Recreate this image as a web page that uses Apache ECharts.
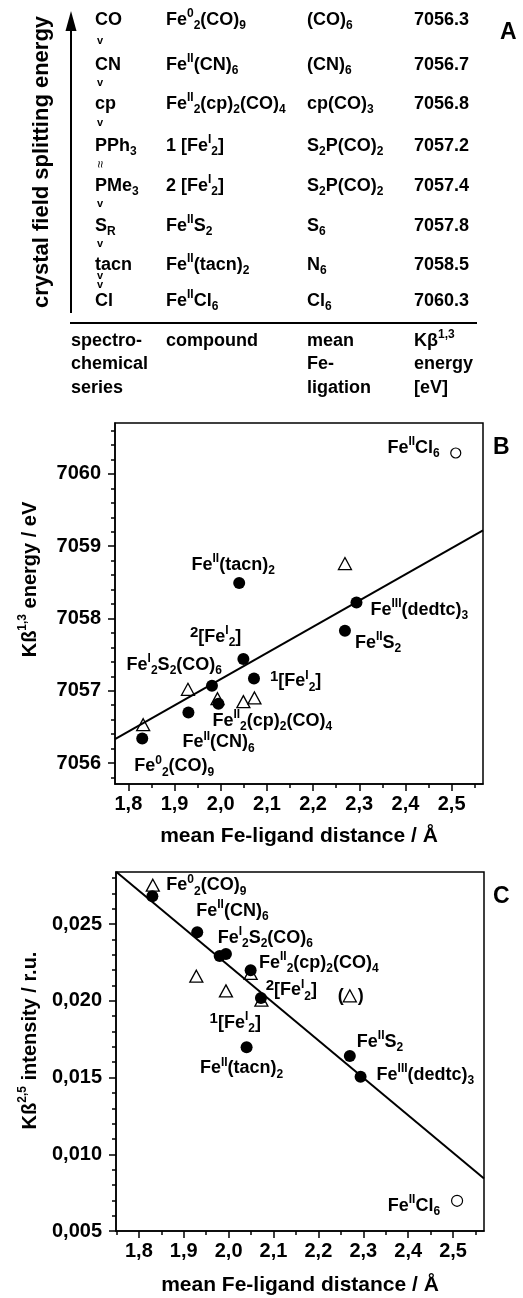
<!DOCTYPE html>
<html><head><meta charset="utf-8">
<script src="https://cdn.jsdelivr.net/npm/echarts@6/dist/echarts.min.js"></script>
<style>html,body{margin:0;padding:0;background:#fff}#c{width:523px;height:1298px}</style>
</head><body><div id="c"></div>
<script>
const FONT = '"Liberation Sans", Arial, Helvetica, sans-serif';

// ---------- Panel A (table) ----------
const spectroSeries = ['{m|CO}','{m|CN}','{m|cp}','{m|PPh}{sub|3}','{m|PMe}{sub|3}','{m|S}{sub|R}','{m|tacn}','{m|Cl}'];
const seriesRelations = ['v','v','v','≈','v','v','vv'];
const compoundsTable = [
  '{m|Fe}{sup|0}{sub|2}{m|(CO)}{sub|9}',
  '{m|Fe}{sup|II}{m|(CN)}{sub|6}',
  '{m|Fe}{sup|II}{sub|2}{m|(cp)}{sub|2}{m|(CO)}{sub|4}',
  '{m|1 [Fe}{sup|I}{sub|2}{m|]}',
  '{m|2 [Fe}{sup|I}{sub|2}{m|]}',
  '{m|Fe}{sup|II}{m|S}{sub|2}',
  '{m|Fe}{sup|II}{m|(tacn)}{sub|2}',
  '{m|Fe}{sup|II}{m|Cl}{sub|6}'
];
const ligationTable = ['{m|(CO)}{sub|6}','{m|(CN)}{sub|6}','{m|cp(CO)}{sub|3}','{m|S}{sub|2}{m|P(CO)}{sub|2}','{m|S}{sub|2}{m|P(CO)}{sub|2}','{m|S}{sub|6}','{m|N}{sub|6}','{m|Cl}{sub|6}'];
const energyTable = [7056.3, 7056.7, 7056.8, 7057.2, 7057.4, 7057.8, 7058.5, 7060.3];
const headerCols = [
  ['spectro-','chemical','series'],
  ['compound'],
  ['mean','Fe-','ligation'],
  ['{m|Kβ}{sup|1,3}','energy','[eV]']
];

// ---------- Panel B ----------
const compoundNames = ['Fe0', 'CN', 'S2CO', 'cp', 'tacn', '2FeI2', '1FeI2', 'S2', 'dedtc'];
const distB   = [1.830, 1.930, 1.981, 1.995, 2.040, 2.049, 2.072, 2.269, 2.294];
const energyB = [7056.34, 7056.70, 7057.07, 7056.82, 7058.49, 7057.44, 7057.17, 7057.83, 7058.22];
const triDistB   = [1.832, 1.929, 1.993, 2.049, 2.073, 2.269];
const triEnergyB = [7056.53, 7057.02, 7056.89, 7056.85, 7056.90, 7058.76];
const openDistB = [2.509];
const openEnergyB = [7060.29];
const fitDistB = [1.771, 2.568];
const fitEnergyB = [7056.33, 7059.22];

// ---------- Panel C ----------
const distC      = [1.830, 1.930, 1.980, 1.994, 2.040, 2.049, 2.072, 2.270, 2.294];
const intensityC = [0.02682, 0.02448, 0.02292, 0.02305, 0.01697, 0.02200, 0.02018, 0.01641, 0.01505];
const triDistC = [1.831, 1.928, 1.994, 2.049, 2.073, 2.270];
const triIntC  = [0.02754, 0.02161, 0.02065, 0.02179, 0.02005, 0.02033];
const openDistC = [2.509];
const openIntC = [0.00697];
const fitDistC = [1.750, 2.569];
const fitIntC = [0.0284, 0.00842];

// ---------- tick labels ----------
const distTicks = [1.8, 1.9, 2.0, 2.1, 2.2, 2.3, 2.4, 2.5];
const distMinorTicksB = [1.85, 1.95, 2.05, 2.15, 2.25, 2.35, 2.45, 2.55];
const distMinorTicksC = [1.75, 1.85, 1.95, 2.05, 2.15, 2.25, 2.35, 2.45, 2.55];
const energyTicks = [7056, 7057, 7058, 7059, 7060];
const energyMinorTicks = [7055.8, 7056.2, 7056.4, 7056.6, 7056.8, 7057.2, 7057.4, 7057.6, 7057.8,
  7058.2, 7058.4, 7058.6, 7058.8, 7059.2, 7059.4, 7059.6, 7059.8, 7060.2, 7060.4, 7060.6];
const intensityTicks = [0.005, 0.010, 0.015, 0.020, 0.025];
const intensityMinorTicks = [0.006, 0.007, 0.008, 0.009, 0.011, 0.012, 0.013, 0.014, 0.016, 0.017,
  0.018, 0.019, 0.021, 0.022, 0.023, 0.024, 0.026, 0.027, 0.028];

// compound label texts
const labelText = {
  Fe0: '{m|Fe}{sup|0}{sub|2}{m|(CO)}{sub|9}',
  CN: '{m|Fe}{sup|II}{m|(CN)}{sub|6}',
  S2CO: '{m|Fe}{sup|I}{sub|2}{m|S}{sub|2}{m|(CO)}{sub|6}',
  cp: '{m|Fe}{sup|II}{sub|2}{m|(cp)}{sub|2}{m|(CO)}{sub|4}',
  tacn: '{m|Fe}{sup|II}{m|(tacn)}{sub|2}',
  '2FeI2': '{pre|2}{m|[Fe}{sup|I}{sub|2}{m|]}',
  '1FeI2': '{pre|1}{m|[Fe}{sup|I}{sub|2}{m|]}',
  S2: '{m|Fe}{sup|II}{m|S}{sub|2}',
  dedtc: '{m|Fe}{sup|III}{m|(dedtc)}{sub|3}',
  Cl: '{m|Fe}{sup|II}{m|Cl}{sub|6}'
};

// label layout (pixel offsets from the marker centre) -- styling only
const layoutB = {
  Fe0: ['left', -8, 28], CN: ['left', -6, 30], S2CO: ['right', 10, -21], cp: ['left', -6, 17],
  tacn: ['center', -6, -18], '2FeI2': ['right', -2, -22], '1FeI2': ['left', 16, 3],
  S2: ['left', 10, 12], dedtc: ['left', 14, 7], Cl: ['right', -16, -5]
};
const layoutC = {
  Fe0: ['left', 14, -11], CN: ['left', -1, -21], S2CO: ['left', -2, -18], cp: ['left', 33, 9],
  tacn: ['center', -5, 21], '2FeI2': ['left', 15, 20], '1FeI2': ['right', 0, 25],
  S2: ['left', 7, -14], dedtc: ['left', 16, -2], Cl: ['right', -17, 5]
};

const richLabel = {
  m:   {fontSize: 18, fontWeight: 'bold', color: '#000', fontFamily: FONT, lineHeight: 24},
  sup: {fontSize: 12, fontWeight: 'bold', color: '#000', fontFamily: FONT, verticalAlign: 'top', lineHeight: 14},
  sub: {fontSize: 12, fontWeight: 'bold', color: '#000', fontFamily: FONT, verticalAlign: 'bottom', lineHeight: 14},
  pre: {fontSize: 15, fontWeight: 'bold', color: '#000', fontFamily: FONT, verticalAlign: 'top', lineHeight: 16},
  gap: {width: 14, fontSize: 18, lineHeight: 24}
};

function labelFor(name, layout) {
  const l = layout[name];
  return {show: true, position: 'inside', align: l[0], verticalAlign: 'middle', offset: [l[1], l[2]],
          formatter: labelText[name], rich: richLabel, color: '#000', opacity: 1};
}

const fmt1 = v => v.toFixed(1).replace('.', ',');
const fmt3 = v => v.toFixed(3).replace('.', ',');
const fmt0 = v => String(Math.round(v));

const axisText = {fontSize: 20, fontWeight: 'bold', color: '#000', fontFamily: FONT};
const lineBlack = {color: '#000', width: 1.5};

function majorAxis(grid, min, max, ticks, fmt, margin, extra) {
  return Object.assign({
    type: 'value', gridIndex: grid, min: min, max: max,
    axisLine: {show: true, onZero: false, lineStyle: lineBlack},
    axisTick: {show: true, inside: false, length: 7, customValues: ticks, lineStyle: lineBlack},
    axisLabel: Object.assign({customValues: ticks, formatter: fmt, margin: margin}, axisText),
    splitLine: {show: false}, minorTick: {show: false}
  }, extra);
}
function minorAxis(grid, min, max, ticks, extra) {
  return Object.assign({
    type: 'value', gridIndex: grid, min: min, max: max,
    axisLine: {show: false, onZero: false},
    axisTick: {show: true, inside: false, length: 4, customValues: ticks, lineStyle: lineBlack},
    axisLabel: {show: false}, splitLine: {show: false}
  }, extra);
}

const nameStyle = {fontSize: 21, fontWeight: 'bold', color: '#000', fontFamily: FONT};
const yNameRich = {
  a: {fontSize: 20, fontWeight: 'bold', color: '#000', fontFamily: FONT, lineHeight: 26},
  s: {fontSize: 12, fontWeight: 'bold', color: '#000', fontFamily: FONT, verticalAlign: 'top', lineHeight: 14}
};

const xMinB = 1.771, xMaxB = 2.568, yMinB = 7055.71, yMaxB = 7060.705;
const xMinC = 1.749, xMaxC = 2.569, yMinC = 0.005, yMaxC = 0.0284;

const xAxes = [
  majorAxis(0, xMinB, xMaxB, distTicks, fmt1, 10, {position: 'bottom', name: 'mean Fe-ligand distance / Å',
    nameLocation: 'middle', nameGap: 42, nameTextStyle: nameStyle}),
  minorAxis(0, xMinB, xMaxB, distMinorTicksB, {position: 'bottom'}),
  majorAxis(1, xMinC, xMaxC, distTicks, fmt1, 10, {position: 'bottom', name: 'mean Fe-ligand distance / Å',
    nameLocation: 'middle', nameGap: 44, nameTextStyle: nameStyle}),
  minorAxis(1, xMinC, xMaxC, distMinorTicksC, {position: 'bottom'})
];
const yAxes = [
  majorAxis(0, yMinB, yMaxB, energyTicks, fmt0, 14, {position: 'left',
    name: '{a|Kß}{s|1,3}{a| energy / eV}', nameLocation: 'middle', nameGap: 72,
    nameTextStyle: {rich: yNameRich, padding: [0, 0, 0, 48]}}),
  minorAxis(0, yMinB, yMaxB, energyMinorTicks, {position: 'left'}),
  majorAxis(1, yMinC, yMaxC, intensityTicks, fmt3, 14, {position: 'left',
    name: '{a|Kß}{s|2,5}{a| intensity / r.u.}', nameLocation: 'middle', nameGap: 73,
    nameTextStyle: {rich: yNameRich, padding: [0, 0, 0, 22]}}),
  minorAxis(1, yMinC, yMaxC, intensityMinorTicks, {position: 'left'})
];

const circleStyle = {color: '#000', opacity: 1};
const triStyle = {color: 'rgba(0,0,0,0)', borderColor: '#000', borderWidth: 1.3, opacity: 1};
const openStyle = {color: '#fff', borderColor: '#000', borderWidth: 1.2, opacity: 1};

const series = [
  // Panel B
  {type: 'line', xAxisIndex: 0, yAxisIndex: 0, data: fitDistB.map((x, i) => [x, fitEnergyB[i]]),
   showSymbol: false, symbol: 'none', lineStyle: {color: '#000', width: 2, opacity: 1}, silent: true},
  {type: 'scatter', xAxisIndex: 0, yAxisIndex: 0, symbol: 'triangle', symbolSize: [13, 12],
   data: triDistB.map((x, i) => [x, triEnergyB[i]]), itemStyle: triStyle},
  {type: 'scatter', xAxisIndex: 0, yAxisIndex: 0, symbol: 'circle', symbolSize: 12, itemStyle: circleStyle,
   data: distB.map((x, i) => ({value: [x, energyB[i]], label: labelFor(compoundNames[i], layoutB)}))},
  {type: 'scatter', xAxisIndex: 0, yAxisIndex: 0, symbol: 'circle', symbolSize: 10, itemStyle: openStyle,
   data: openDistB.map((x, i) => ({value: [x, openEnergyB[i]], label: labelFor('Cl', layoutB)}))},
  // Panel C
  {type: 'line', xAxisIndex: 2, yAxisIndex: 2, data: fitDistC.map((x, i) => [x, fitIntC[i]]),
   showSymbol: false, symbol: 'none', lineStyle: {color: '#000', width: 2, opacity: 1}, silent: true},
  {type: 'scatter', xAxisIndex: 2, yAxisIndex: 2, symbol: 'triangle', symbolSize: [13, 12], itemStyle: triStyle,
   data: triDistC.map((x, i) => {
     const d = {value: [x, triIntC[i]]};
     if (i === triDistC.length - 1) {
       d.label = {show: true, position: 'inside', align: 'center', verticalAlign: 'middle', offset: [1, 0],
                  formatter: '{m|(}{gap|}{m|)}', rich: richLabel, color: '#000', opacity: 1};
     }
     return d;
   })},
  {type: 'scatter', xAxisIndex: 2, yAxisIndex: 2, symbol: 'circle', symbolSize: 12, itemStyle: circleStyle,
   data: distC.map((x, i) => ({value: [x, intensityC[i]], label: labelFor(compoundNames[i], layoutC)}))},
  {type: 'scatter', xAxisIndex: 2, yAxisIndex: 2, symbol: 'circle', symbolSize: 11, itemStyle: openStyle,
   data: openDistC.map((x, i) => ({value: [x, openIntC[i]], label: labelFor('Cl', layoutC)}))}
];

// ---------- graphic elements for table panel ----------
const richTable = {
  m:   {fontSize: 18, fontWeight: 'bold', fill: '#000', fontFamily: FONT, lineHeight: 24},
  sup: {fontSize: 12, fontWeight: 'bold', fill: '#000', fontFamily: FONT, verticalAlign: 'top', lineHeight: 14},
  sub: {fontSize: 12, fontWeight: 'bold', fill: '#000', fontFamily: FONT, verticalAlign: 'bottom', lineHeight: 14}
};
function gText(x, y, text, opts) {
  opts = opts || {};
  const t = /\{\w+\|/.test(text) ? text : '{m|' + text + '}';
  return {type: 'text', x: x, y: y, rotation: opts.rotation || 0, z: 10,
    style: {text: t, rich: richTable, fill: '#000', align: opts.align || 'left', verticalAlign: 'middle',
            textAlign: opts.align || 'left', textVerticalAlign: 'middle'}};
}
function plainText(x, y, text, font, opts) {
  opts = opts || {};
  return {type: 'text', x: x, y: y, rotation: opts.rotation || 0, z: 10,
    style: {text: text, font: font, fill: '#000', align: opts.align || 'left', verticalAlign: 'middle',
            textAlign: opts.align || 'left', textVerticalAlign: 'middle'}};
}

const colX = [95, 166, 307, 414];
const rowY = [20, 65, 104, 146, 186, 226, 265, 301];
const headerY = [341, 364.5, 388];
const graphics = [];
graphics.push({type: 'line', shape: {x1: 71, y1: 313, x2: 71, y2: 26}, style: {stroke: '#000', lineWidth: 2}});
graphics.push({type: 'polygon', shape: {points: [[71, 11], [65.5, 31], [76.5, 31]]}, style: {fill: '#000'}});
graphics.push(plainText(42, 162, 'crystal field splitting energy', 'bold 22px ' + FONT, {rotation: Math.PI / 2, align: 'center'}));
graphics.push({type: 'line', shape: {x1: 70, y1: 323, x2: 477, y2: 323}, style: {stroke: '#000', lineWidth: 2}});
for (let i = 0; i < energyTable.length; i++) {
  graphics.push(gText(colX[0], rowY[i], spectroSeries[i]));
  graphics.push(gText(colX[1], rowY[i], compoundsTable[i]));
  graphics.push(gText(colX[2], rowY[i], ligationTable[i]));
  graphics.push(gText(colX[3], rowY[i], energyTable[i].toFixed(1)));
}
for (let i = 0; i < seriesRelations.length; i++) {
  const mid = (rowY[i] + rowY[i + 1]) / 2 - 2;
  const rel = seriesRelations[i];
  if (rel === 'v') graphics.push(plainText(100, mid, 'v', 'bold 11px ' + FONT, {align: 'center'}));
  else if (rel === 'vv') {
    graphics.push(plainText(100, mid - 5, 'v', 'bold 11px ' + FONT, {align: 'center'}));
    graphics.push(plainText(100, mid + 4, 'v', 'bold 11px ' + FONT, {align: 'center'}));
  } else graphics.push(plainText(100, mid, rel, '13px ' + FONT, {align: 'center', rotation: -Math.PI / 2}));
}
headerCols.forEach((col, c) => col.forEach((txt, r) => graphics.push(gText(colX[c] - (c === 0 ? 24 : 0), headerY[r], txt))));
graphics.push(plainText(500, 33, 'A', 'bold 23px ' + FONT));
graphics.push(plainText(493, 448, 'B', 'bold 23px ' + FONT));
graphics.push(plainText(493, 897, 'C', 'bold 23px ' + FONT));

const chart = echarts.init(document.getElementById('c'), null, {renderer: 'canvas'});
chart.setOption({
  animation: false,
  backgroundColor: '#fff',
  grid: [
    {left: 115, top: 423, width: 368, height: 361, show: true, borderColor: '#000', borderWidth: 1.5,
     backgroundColor: 'rgba(0,0,0,0)', containLabel: false, outerBoundsMode: 'none'},
    {left: 116, top: 872, width: 368, height: 359, show: true, borderColor: '#000', borderWidth: 1.5,
     backgroundColor: 'rgba(0,0,0,0)', containLabel: false, outerBoundsMode: 'none'}
  ],
  xAxis: xAxes,
  yAxis: yAxes,
  series: series,
  graphic: {elements: graphics}
});
</script></body></html>
